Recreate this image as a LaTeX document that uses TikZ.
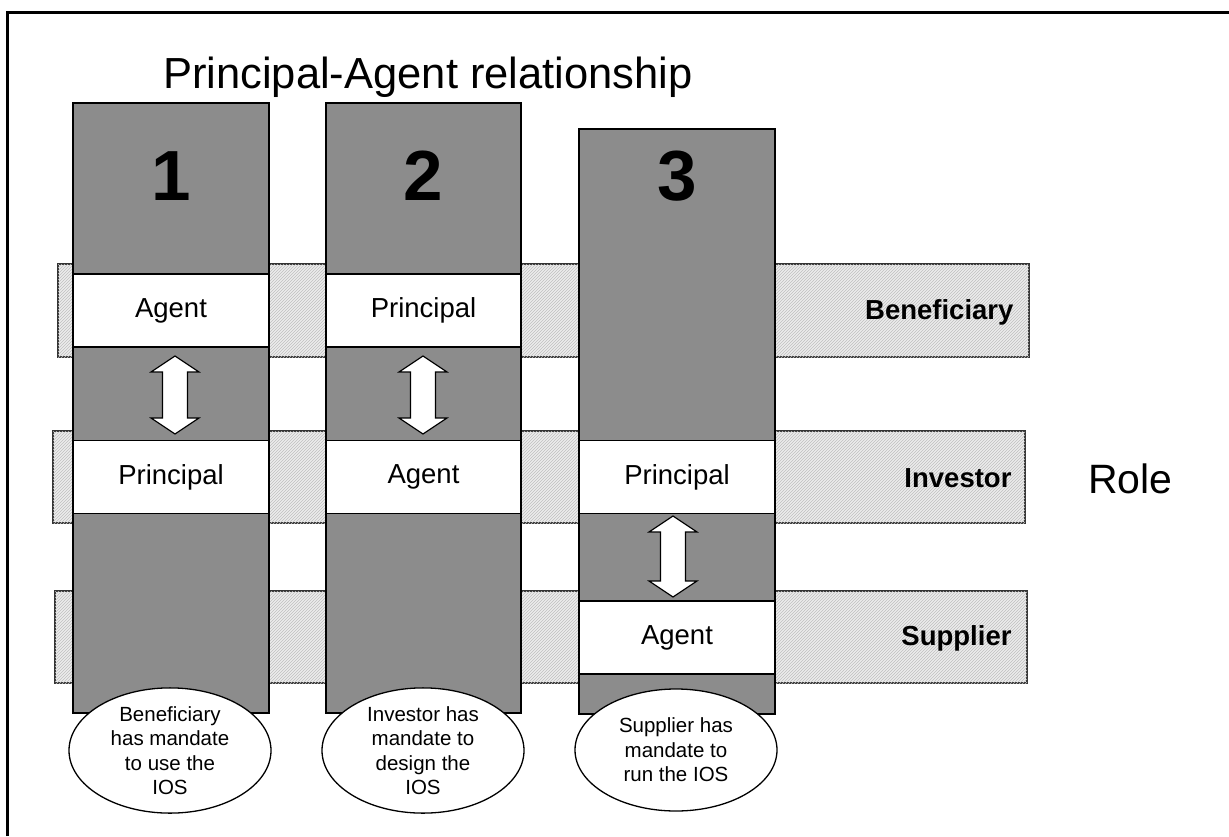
\documentclass[tikz,border=0pt]{standalone}
\usepackage{fontspec}
\setmainfont{Liberation Sans}
\usetikzlibrary{shapes.geometric,patterns}
\definecolor{colgray}{RGB}{140,140,140}
\definecolor{bandgray}{RGB}{236,236,236}
\tikzset{
  band/.style={draw=black!80, line width=1.2pt, fill=bandgray, postaction={pattern=north east lines, pattern color=black!25}},
  column/.style={draw=black, line width=1.3pt, fill=colgray},
  rolebox/.style={draw=black, line width=1.3pt, fill=white, minimum width=196pt, minimum height=73pt, inner sep=0pt, font=\fontsize{27.5}{32}\selectfont},
  rolelabel/.style={anchor=east, font=\bfseries\fontsize{27.5}{32}\selectfont},
  numlabel/.style={font=\bfseries\fontsize{71}{80}\selectfont},
  note/.style={ellipse, draw=black, line width=1.3pt, fill=white, minimum width=202pt, minimum height=122pt, inner sep=0pt, align=center, font=\fontsize{20.5}{24.5}\selectfont},
  barrow/.style={draw=black, line width=1.2pt, fill=white},
  pics/dblarrow/.style={code={
    \draw[barrow] (0,0) -- (24,16) -- (12.5,16) -- (12.5,#1-16) -- (24,#1-16) -- (0,#1)
      -- (-24,#1-16) -- (-12.5,#1-16) -- (-12.5,16) -- (-24,16) -- cycle;}}
}
\begin{document}
\begin{tikzpicture}[x=1pt,y=-1pt]
\useasboundingbox (0,0) rectangle (1229,836);
% frame
\draw[line width=3pt] (7.5,836) -- (7.5,12) -- (1229,12);
% title
\node[anchor=base west, inner sep=0pt, font=\fontsize{43.5}{50}\selectfont] (title) at (163,88) {Principal-Agent relationship};
% bands
\path[band] (58,264) rectangle (1029,357);
\path[band] (53,431) rectangle (1025,523);
\path[band] (55,591) rectangle (1027,683);
\node[rolelabel] (lben) at (1017,312) {Beneficiary};
\node[rolelabel] (linv) at (1015,478) {Investor};
\node[rolelabel] (lsup) at (1015,638) {Supplier};
\node[anchor=base west, inner sep=0pt, font=\fontsize{41}{48}\selectfont] (role) at (1088,493) {Role};
% columns
\path[column] (73,103) rectangle (269,713);
\path[column] (326,103) rectangle (521,713);
\path[column] (579,129) rectangle (775,714);
\node[numlabel] (n1) at (171,176) {1};
\node[numlabel] (n2) at (423.5,176) {2};
\node[numlabel] (n3) at (677,176) {3};
% role boxes
\node[rolebox] (c1a) at (171,310.5) {Agent};
\node[rolebox] (c1p) at (171,477) {Principal};
\node[rolebox, minimum width=195pt] (c2p) at (423.5,310.5) {Principal};
\node[rolebox, minimum width=195pt] (c2a) at (423.5,477) {Agent};
\node[rolebox] (c3p) at (677,477) {Principal};
\node[rolebox] (c3a) at (677,637.5) {Agent};
% block arrows
\pic (a1) at (175,356) {dblarrow=78};
\pic (a2) at (423,356) {dblarrow=78};
\pic (a3) at (673,516) {dblarrow=81};
% notes
\node[note] (e1) at (170,750.5) {Beneficiary\\has mandate\\to use the\\IOS};
\node[note] (e2) at (423,750.5) {Investor has\\mandate to\\design the\\IOS};
\node[note] (e3) at (676,750) {Supplier has\\mandate to\\run the IOS};
\end{tikzpicture}
\end{document}
